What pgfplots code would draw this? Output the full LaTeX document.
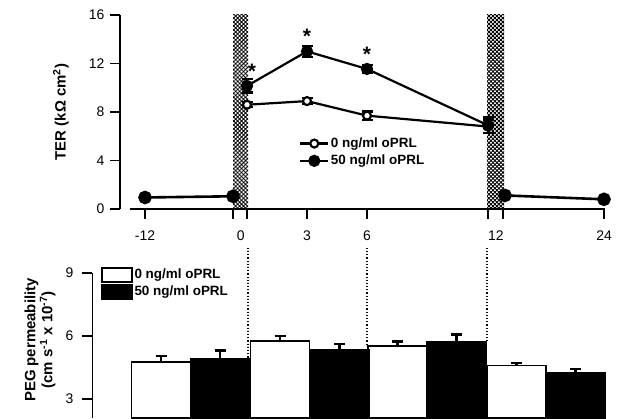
\documentclass[border=0pt]{standalone}
\usepackage{fontspec}
\setmainfont{Liberation Sans}
\usepackage{pgfplots}
\pgfplotsset{compat=1.18}
\usetikzlibrary{patterns.meta}

\pgfplotsset{
  tickfont/.style={font=\fontsize{14}{16}\selectfont},
  boxlegend/.style={legend image code/.code={\draw[##1] (0bp,-7bp) rectangle (30bp,7bp);}},
  panel/.style={
    scale only axis,
    tick align=outside,
    tick pos=left,
    major tick length=10bp,
    every tick/.style={line width=1.8bp, black},
    axis line style={draw=none},
    minor tick num=0,
    /pgf/number format/assume math mode=true,
    tick label style={tickfont},
  },
  errs/.style={
    error bars/y explicit,
    error bars/error bar style={line width=2.2bp},
    error bars/error mark options={rotate=90, line width=2.4bp, mark size=5.5bp}},
}

\begin{document}
\begin{tikzpicture}[x=1bp,y=1bp]
\path[use as bounding box] (0,0) rectangle (639,418);

% ---------------- TER over time ----------------
\begin{axis}[panel,
  name=top,
  at={(120bp,209bp)}, anchor=south west,
  width=490bp, height=194bp,
  xmin=120, xmax=610, ymin=0, ymax=16,
  ytick={0,4,8,12,16},
  yticklabel style={xshift=-2bp},
  xtick={145,233,247,307,367,488,503,604},
  xticklabels={-12,\phantom{00}0,,3,6,\phantom{00}12,,24},
  xticklabel style={yshift=-8bp},
  clip=false,
  legend style={at={(axis cs:299,6.0)}, anchor=north west, draw=none, fill=none,
    inner sep=0pt, row sep=3bp,
    font=\bfseries\fontsize{13.5}{15}\selectfont,
    nodes={inner sep=1.5bp}},
  legend cell align=left,
  legend image code/.code={
    \draw[mark repeat=2,mark phase=2,#1] plot coordinates {(0bp,0bp) (14bp,0bp) (28bp,0bp)};},
]
% prolactin exposure bands
\addplot[draw=none, forget plot,
  pattern={Lines[angle=45,distance=2.8bp,line width=0.9bp]},
  postaction={pattern={Lines[angle=-45,distance=2.8bp,line width=0.9bp]}}]
  coordinates {(233,16) (248,16)} \closedcycle;
\addplot[draw=none, forget plot,
  pattern={Lines[angle=45,distance=2.8bp,line width=0.9bp]},
  postaction={pattern={Lines[angle=-45,distance=2.8bp,line width=0.9bp]}}]
  coordinates {(487,16) (504,16)} \closedcycle;

% offset axis lines
\draw[line width=2bp] (axis cs:130,0) -- (axis cs:605,0);
\draw[line width=2bp] (axis cs:120,0) -- (axis cs:120,16);

% before and after treatment (both groups)
\addplot[line width=2.6bp, mark=*, mark size=5.5bp, forget plot]
  coordinates {(145,0.95) (233,1.05)};
\addplot[line width=2.6bp, mark=*, mark size=5.5bp, forget plot]
  coordinates {(505,1.12) (604,0.80)};

% 0 ng/ml oPRL
\addplot[line width=2.2bp, mark=*, mark size=4bp,
  mark options={fill=white, line width=2.2bp},
  errs, error bars/y dir=both]
  coordinates {
    (247,8.6) +- (0,0.2)
    (307,8.9) +- (0,0.25)
    (367,7.7) +- (0,0.35)
    (488,6.8) +- (0,0.55)
  };
\addlegendentry{0 ng/ml oPRL}

% 50 ng/ml oPRL
\addplot[line width=2.2bp, mark=*, mark size=5bp,
  errs, error bars/y dir=both]
  coordinates {
    (247,10.15) +- (0,0.55)
    (307,13.0) +- (0,0.45)
    (367,11.55) +- (0,0.35)
    (488,6.9) +- (0,0.65)
  };
\addlegendentry{50 ng/ml oPRL}

\node[font=\bfseries\fontsize{21}{21}\selectfont, yshift=-4.5bp] at (axis cs:252,11.75) {*};
\node[font=\bfseries\fontsize{21}{21}\selectfont, yshift=-4.5bp] at (axis cs:307,14.65) {*};
\node[font=\bfseries\fontsize{21}{21}\selectfont, yshift=-4.5bp] at (axis cs:367,13.15) {*};
\end{axis}

% ---------------- PEG permeability ----------------
\begin{axis}[panel,
  at={(92bp,0bp)}, anchor=south west,
  width=518bp, height=145bp,
  xmin=92, xmax=610, ymin=2.1, ymax=9,
  xtick=\empty,
  ytick={3,6,9},
  yticklabel style={xshift=-5bp},
  legend style={at={(axis cs:101,9.3)}, anchor=north west, draw=none, fill=none,
    inner sep=0pt, row sep=1bp,
    font=\bfseries\fontsize{13.5}{15}\selectfont,
    nodes={inner sep=1.5bp}},
  legend cell align=left,
]
\addplot[ybar, bar shift=0pt, bar width=59, fill=white, draw=black, line width=1.8bp,
  boxlegend, errs, error bars/y dir=plus]
  coordinates {
    (161,4.78) +- (0,0.27)
    (280,5.78) +- (0,0.23)
    (397.5,5.52) +- (0,0.22)
    (516.5,4.60) +- (0,0.13)
  };
\addlegendentry{0 ng/ml oPRL}
\addplot[ybar, bar shift=0pt, bar width=59, fill=black, draw=black, line width=1.8bp,
  boxlegend, errs, error bars/y dir=plus]
  coordinates {
    (220,4.89) +- (0,0.42)
    (339.5,5.33) +- (0,0.29)
    (456.5,5.71) +- (0,0.37)
    (575.5,4.25) +- (0,0.18)
  };
\addlegendentry{50 ng/ml oPRL}

\draw[line width=2bp] (axis cs:92,2.1) -- (axis cs:92,9);

\coordinate (d1a) at (axis cs:248,10.2);
\coordinate (d1b) at (axis cs:248,4.9);
\coordinate (d2a) at (axis cs:367,10.2);
\coordinate (d2b) at (axis cs:367,5.55);
\coordinate (d3a) at (axis cs:487,10.2);
\coordinate (d3b) at (axis cs:487,5.75);
\end{axis}

\draw[dotted, line width=1.2bp] (d1a) -- (d1b);
\draw[dotted, line width=1.2bp] (d2a) -- (d2b);
\draw[dotted, line width=1.2bp] (d3a) -- (d3b);

% axis titles
\node[rotate=90, font=\bfseries\fontsize{15}{17}\selectfont] at (61,306) {TER (kΩ cm\textsuperscript{2})};
\node[rotate=90, font=\bfseries\fontsize{15}{17}\selectfont, align=center] at (40,78)
  {PEG permeability\\(cm s\textsuperscript{-1} x 10\textsuperscript{-7})};
\end{tikzpicture}
\end{document}
